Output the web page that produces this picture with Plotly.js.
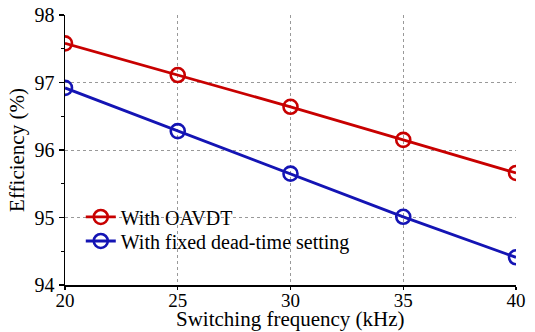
<!DOCTYPE html>
<html><head><meta charset="utf-8">
<script src="https://cdn.plot.ly/plotly-3.0.1.min.js"></script>
<style>html,body{margin:0;padding:0;background:#fff;}#chart{width:535px;height:332px;}</style>
</head><body><div id="chart"></div>
<script>
const freq = [20, 25, 30, 35, 40];
const effOAVDT = [97.58, 97.11, 96.64, 96.15, 95.66];
const effFixed = [96.92, 96.28, 95.65, 95.01, 94.41];
const seriesNames = ['With OAVDT', 'With fixed dead-time setting'];
const xTicks = [20, 25, 30, 35, 40];
const yTicks = [94, 95, 96, 97, 98];
const xTitle = 'Switching frequency (kHz)';
const yTitle = 'Efficiency (%)';

const FAM = 'Liberation Serif, Times New Roman, serif';
const f = s => ({family: FAM, size: s, color: '#000'});
const mk = c => ({symbol: 'circle-open', size: 14, color: c, line: {width: 2.6, color: c}});
const traces = [
  {x: freq, y: effOAVDT, name: seriesNames[0], mode: 'lines+markers', legend: 'legend',
   line: {color: '#c80000', width: 2.8}, marker: mk('#c80000')},
  {x: freq, y: effFixed, name: seriesNames[1], mode: 'lines+markers', legend: 'legend2',
   line: {color: '#1414b4', width: 2.8}, marker: mk('#1414b4')}
];
const legBase = {xanchor: 'left', yanchor: 'middle', bgcolor: 'rgba(0,0,0,0)', borderwidth: 0,
  font: f(20), itemwidth: 30};
const layout = {
  width: 535, height: 332,
  margin: {l: 65, r: 19, t: 15, b: 47},
  paper_bgcolor: '#fff', plot_bgcolor: '#fff',
  font: f(20),
  xaxis: {range: [20, 40], tickvals: xTicks, ticktext: xTicks.map(String),
    showgrid: true, gridcolor: '#999', griddash: 'dot', gridwidth: 1,
    showline: true, linecolor: '#000', linewidth: 1.5,
    ticks: 'outside', ticklen: 3, tickcolor: '#000', tickwidth: 1.2,
    ticklabelposition: 'outside', ticklabelstandoff: -5,
    tickfont: f(19), zeroline: false, automargin: false},
  yaxis: {range: [94, 98], tickvals: yTicks, ticktext: yTicks.map(String),
    showgrid: true, gridcolor: '#999', griddash: 'dot', gridwidth: 1,
    showline: true, linecolor: '#000', linewidth: 1.5,
    ticks: 'outside', ticklen: 5, tickcolor: '#000', tickwidth: 1.2,
    minor: {dtick: 0.5, ticks: 'outside', ticklen: 3, tickcolor: '#000', showgrid: false},
    tickfont: f(20), zeroline: false, automargin: false,
    title: {text: yTitle, font: f(21), standoff: 4}},
  annotations: [{text: xTitle, xref: 'paper', yref: 'paper', x: 0.5, y: -0.174,
    xanchor: 'center', yanchor: 'bottom', showarrow: false, font: f(21),
    borderpad: 0}],
  shapes: [{type: 'rect', xref: 'paper', yref: 'paper', x0: 0.003, x1: 0.672, y0: 0.093, y1: 0.304,
    fillcolor: '#fff', line: {width: 0}, layer: 'between'}],
  showlegend: true,
  legend: Object.assign({x: 0.035, y: 0.252}, legBase),
  legend2: Object.assign({x: 0.035, y: 0.163}, legBase)
};
Plotly.newPlot('chart', traces, layout, {displayModeBar: false, staticPlot: true});
</script></body></html>
